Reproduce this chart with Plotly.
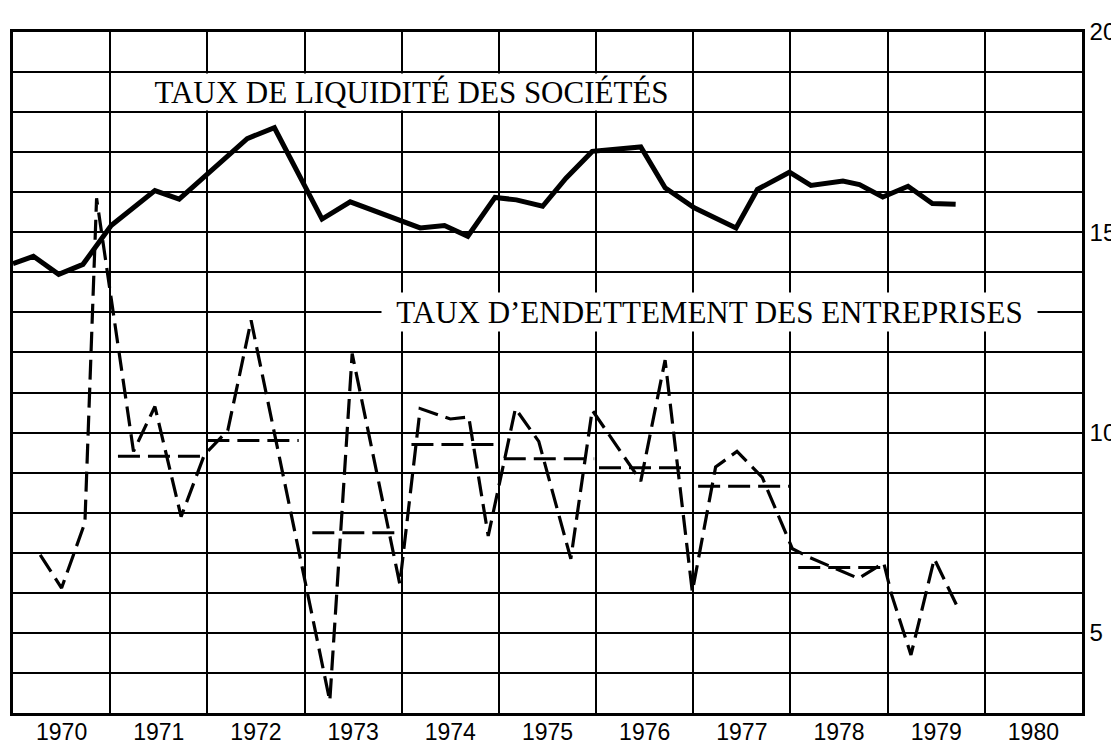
import plotly.graph_objects as go

# ---- data ----
liq_year = [1970.00, 1970.21, 1970.47, 1970.72, 1971.01, 1971.46, 1971.71, 1972.41, 1972.69,
            1973.18, 1973.47, 1974.19, 1974.44, 1974.68, 1974.96, 1975.18, 1975.45, 1975.69,
            1975.96, 1976.46, 1976.71, 1977.01, 1977.44, 1977.66, 1977.99, 1978.21, 1978.54,
            1978.71, 1978.95, 1979.21, 1979.46, 1979.70]
liq_value = [14.22, 14.40, 13.95, 14.20, 15.17, 16.04, 15.83, 17.34, 17.61,
             15.33, 15.76, 15.11, 15.17, 14.90, 15.87, 15.81, 15.65, 16.35,
             17.02, 17.13, 16.11, 15.61, 15.11, 16.07, 16.50, 16.17, 16.28,
             16.19, 15.88, 16.15, 15.72, 15.70]

debt_year = [1970.28, 1970.50, 1970.74, 1970.86, 1971.24, 1971.46, 1971.73, 1971.97, 1972.21,
             1972.45, 1973.26, 1973.49, 1973.98, 1974.19, 1974.50, 1974.69, 1974.89, 1975.17,
             1975.41, 1975.74, 1975.96, 1976.46, 1976.71, 1976.99, 1977.23, 1977.45, 1977.71,
             1978.02, 1978.20, 1978.70, 1978.96, 1979.04, 1979.24, 1979.48, 1979.72]
debt_value = [6.95, 6.12, 7.75, 15.85, 9.53, 10.65, 7.90, 9.45, 10.05,
              12.80, 3.30, 11.97, 6.22, 10.60, 10.34, 10.39, 7.42, 10.60,
              9.78, 6.85, 10.56, 8.79, 11.81, 6.03, 9.14, 9.53, 8.88,
              7.10, 6.88, 6.36, 6.75, 5.96, 4.45, 6.85, 5.64]

avg_start = [1971.08, 1972.00, 1973.08, 1974.10, 1975.05, 1976.03, 1977.05, 1978.08]
avg_end = [1971.99, 1972.94, 1973.96, 1975.00, 1975.98, 1976.93, 1977.99, 1978.97]
avg_value = [9.41, 9.80, 7.50, 9.70, 9.35, 9.12, 8.66, 6.63]

year_labels = ["1970", "1971", "1972", "1973", "1974", "1975", "1976", "1977", "1978", "1979", "1980"]
y_tick_values = [5, 10, 15, 20]

label_liq = "TAUX DE LIQUIDITÉ DES SOCIÉTÉS"
label_debt = "TAUX D’ENDETTEMENT DES ENTREPRISES"

# ---- build ----
avg_x, avg_y = [], []
for s, e, v in zip(avg_start, avg_end, avg_value):
    avg_x += [s, e, None]
    avg_y += [v, v, None]

first_year = int(year_labels[0])
year_mid = [int(y) + 0.5 for y in year_labels]

fig = go.Figure()
fig.add_trace(go.Scatter(x=avg_x, y=avg_y, mode="lines",
                         line=dict(color="black", width=3, dash="22px,8px"),
                         hoverinfo="skip"))
fig.add_trace(go.Scatter(x=debt_year, y=debt_value, mode="lines",
                         line=dict(color="black", width=3.2, dash="20px,8px"),
                         name="debt"))
fig.add_trace(go.Scatter(x=liq_year, y=liq_value, mode="lines",
                         line=dict(color="black", width=5),
                         name="liq"))

tick_font = dict(family="Liberation Sans, Arial, sans-serif", size=23, color="black")
serif = dict(family="Liberation Serif, Times New Roman, serif", size=31, color="black")

# the page body adds an 8 px margin, so the figure is 8 px smaller than the window
fig.update_layout(
    width=1111, height=739,
    margin=dict(l=5, r=37, t=24, b=34, autoexpand=False),
    paper_bgcolor="white", plot_bgcolor="white",
    showlegend=False,
    xaxis=dict(
        range=[first_year, first_year + len(year_labels)],
        tickmode="array", tickvals=year_mid, ticktext=year_labels,
        showgrid=False, zeroline=False, automargin=False,
        showline=True, linecolor="black", linewidth=2.5, mirror=True,
        ticks="", tickfont=tick_font, ticklabelstandoff=-3,
        minor=dict(tickmode="linear", tick0=first_year, dtick=1, showgrid=True,
                   gridcolor="black", gridwidth=2, ticks=""),
    ),
    yaxis=dict(
        range=[3, 20], side="right",
        tickmode="array", tickvals=y_tick_values,
        showgrid=True, gridcolor="black", gridwidth=2, zeroline=False, automargin=False,
        showline=True, linecolor="black", linewidth=2.5, mirror=True,
        ticks="", tickfont=dict(family="Liberation Sans, Arial, sans-serif", size=24, color="black"),
        ticklabelstandoff=0,
        minor=dict(tickmode="linear", tick0=0, dtick=1, showgrid=True,
                   gridcolor="black", gridwidth=2, ticks=""),
    ),
    annotations=[
        dict(x=1974.1, y=18.5, xref="x", yref="y", text=label_liq, showarrow=False,
             font=serif, bgcolor="white", width=545, height=36, borderpad=0),
        dict(x=1977.17, y=13.0, xref="x", yref="y", text=label_debt, showarrow=False,
             font=serif, bgcolor="white", width=655, height=38, borderpad=0),
    ],
)

fig.write_html("out.html")
